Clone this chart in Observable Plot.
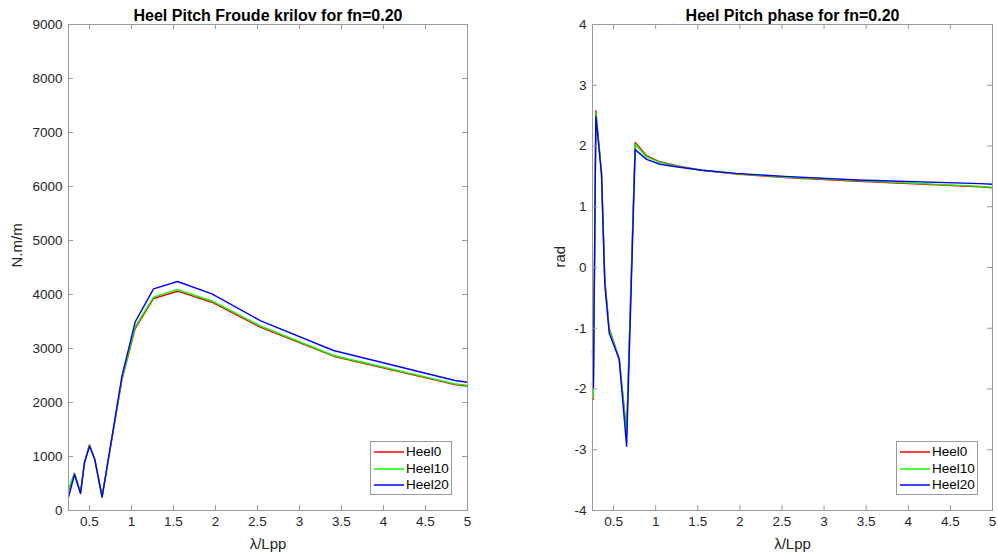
<!DOCTYPE html>
<html><head><meta charset="utf-8">
<script src="https://cdn.jsdelivr.net/npm/d3@7"></script>
<script src="https://cdn.jsdelivr.net/npm/@observablehq/plot@0.6"></script>
<style>
body{margin:0;background:#fff;font-family:"Liberation Sans",Arial,Helvetica,sans-serif;}
#wrap{position:relative;width:998px;height:560px;display:flex;}
#wrap > svg{display:block;}
.legend{position:absolute;border:1px solid #9a9a9a;background:#fff;font-size:13.5px;color:#000;width:82px;height:54px;box-sizing:border-box;padding-top:2px;}
.legend .row{height:16.5px;line-height:16.5px;white-space:nowrap;}
.legend .sw{display:inline-block;vertical-align:middle;margin:0 2px 0 3px;}
</style></head><body><div id="wrap"></div>
<script>
// ---- data ----
const seriesNames = ["Heel0", "Heel10", "Heel20"];
const seriesColors = ["#ff0000", "#00ff00", "#0000ff"];

// Froude-Krilov amplitude (N.m/m)
const xAmp = [0.25, 0.321, 0.393, 0.44, 0.5, 0.563, 0.65, 0.886, 1.044, 1.262, 1.548, 1.957, 2.532, 3.405, 4.85, 5.0];
const heel0Amp  = [370, 690, 330, 890, 1220, 950, 260, 2420, 3370, 3926, 4061, 3857, 3394, 2857, 2330, 2300];
const heel10Amp = [390, 680, 320, 885, 1210, 945, 250, 2440, 3400, 3950, 4090, 3880, 3420, 2870, 2344, 2315];
const heel20Amp = [246, 667, 315, 882, 1190, 944, 246, 2487, 3493, 4104, 4241, 4011, 3518, 2963, 2407, 2376];

// phase (rad)
const xPhase = [0.25, 0.26, 0.29, 0.357, 0.396, 0.448, 0.567, 0.655, 0.757, 0.893, 1.05, 1.262, 1.548, 1.957, 2.532, 3.405, 4.85, 5.0];
const heel0Phase  = [-1.9, -2.17, 2.58, 1.56, -0.2, -1.0, -1.5, -2.7, 2.06, 1.84, 1.74, 1.67, 1.60, 1.54, 1.48, 1.42, 1.33, 1.31];
const heel10Phase = [-1.9, -2.14, 2.55, 1.55, -0.22, -1.02, -1.5, -2.75, 2.03, 1.82, 1.73, 1.665, 1.60, 1.545, 1.49, 1.43, 1.335, 1.32];
const heel20Phase = [-1.37, -1.98, 2.49, 1.53, -0.27, -1.08, -1.51, -2.94, 1.94, 1.78, 1.70, 1.655, 1.60, 1.55, 1.50, 1.44, 1.38, 1.37];

const xTicks = [0.5, 1, 1.5, 2, 2.5, 3, 3.5, 4, 4.5, 5];
const ampTicks = [0, 1000, 2000, 3000, 4000, 5000, 6000, 7000, 8000, 9000];
const phaseTicks = [-4, -3, -2, -1, 0, 1, 2, 3, 4];

const ampTitle = "Heel Pitch Froude krilov for fn=0.20";
const phaseTitle = "Heel Pitch phase for fn=0.20";
const xLabel = "\u03bb/Lpp";
const ampLabel = "N.m/m";
const phaseLabel = "rad";

function table(xs, ys) {
  const rows = [];
  ys.forEach((arr, i) => arr.forEach((v, j) => rows.push({x: xs[j], y: v, series: seriesNames[i]})));
  return rows;
}

const FONT = '"Liberation Sans", Arial, Helvetica, sans-serif';
const AXC = "#9a9a9a";
const TXT = "#262626";

function chart({width, marginLeft, marginRight, data, yDomain, yTicks, title, yLabel, yLabelDx}) {
  const marginTop = 24, marginBottom = 50, height = 560;
  const pw = width - marginLeft - marginRight;
  const ph = height - marginTop - marginBottom;
  return Plot.plot({
    width, height, marginLeft, marginRight, marginTop, marginBottom,
    style: {fontFamily: FONT, fontSize: "13.5px", color: TXT, background: "white", overflow: "visible"},
    x: {domain: [0.25, 5]},
    y: {domain: yDomain},
    color: {domain: seriesNames, range: seriesColors},
    marks: [
      Plot.line(data, {x: "x", y: "y", z: "series", stroke: "series", strokeWidth: 1.4}),
      Plot.frame({stroke: AXC}),
      Plot.tickX(xTicks, {x: d => d, insetTop: ph - 5, stroke: AXC}),
      Plot.tickX(xTicks, {x: d => d, insetBottom: ph - 5, stroke: AXC}),
      Plot.tickY(yTicks, {y: d => d, insetRight: pw - 5, stroke: AXC}),
      Plot.tickY(yTicks, {y: d => d, insetLeft: pw - 5, stroke: AXC}),
      Plot.axisX(xTicks, {tickSize: 0, tickPadding: 6, tickFormat: d => String(d), label: null, fill: TXT}),
      Plot.axisY(yTicks, {tickSize: 0, tickPadding: 6, tickFormat: d => String(d), label: null, fill: TXT}),
      Plot.text([xLabel], {text: d => d, frameAnchor: "bottom", dy: 38, fontSize: 15, fill: TXT}),
      Plot.text([yLabel], {text: d => d, frameAnchor: "left", dx: yLabelDx, rotate: -90, fontSize: 15, fill: TXT}),
      Plot.text([title], {text: d => d, frameAnchor: "top", dy: -15, fontWeight: "bold", fontSize: 16, fill: "#000"})
    ]
  });
}

const wrap = document.getElementById("wrap");
wrap.appendChild(chart({
  width: 499, marginLeft: 68, marginRight: 32,
  data: table(xAmp, [heel0Amp, heel10Amp, heel20Amp]),
  yDomain: [0, 9000], yTicks: ampTicks, title: ampTitle, yLabel: ampLabel, yLabelDx: -51
}));
wrap.appendChild(chart({
  width: 499, marginLeft: 93, marginRight: 6,
  data: table(xPhase, [heel0Phase, heel10Phase, heel20Phase]),
  yDomain: [-4, 4], yTicks: phaseTicks, title: phaseTitle, yLabel: phaseLabel, yLabelDx: -32
}));

function legend(left, top) {
  const d = document.createElement("div");
  d.className = "legend";
  d.style.left = left + "px";
  d.style.top = top + "px";
  seriesNames.forEach((n, i) => {
    const r = document.createElement("div");
    r.className = "row";
    r.innerHTML = `<svg class="sw" width="30" height="6"><line x1="0" x2="30" y1="3" y2="3" stroke="${seriesColors[i]}" stroke-width="1.5"/></svg>`;
    r.appendChild(document.createTextNode(n));
    d.appendChild(r);
  });
  wrap.appendChild(d);
}
legend(370, 441);
legend(896, 441);
</script>
</body></html>
